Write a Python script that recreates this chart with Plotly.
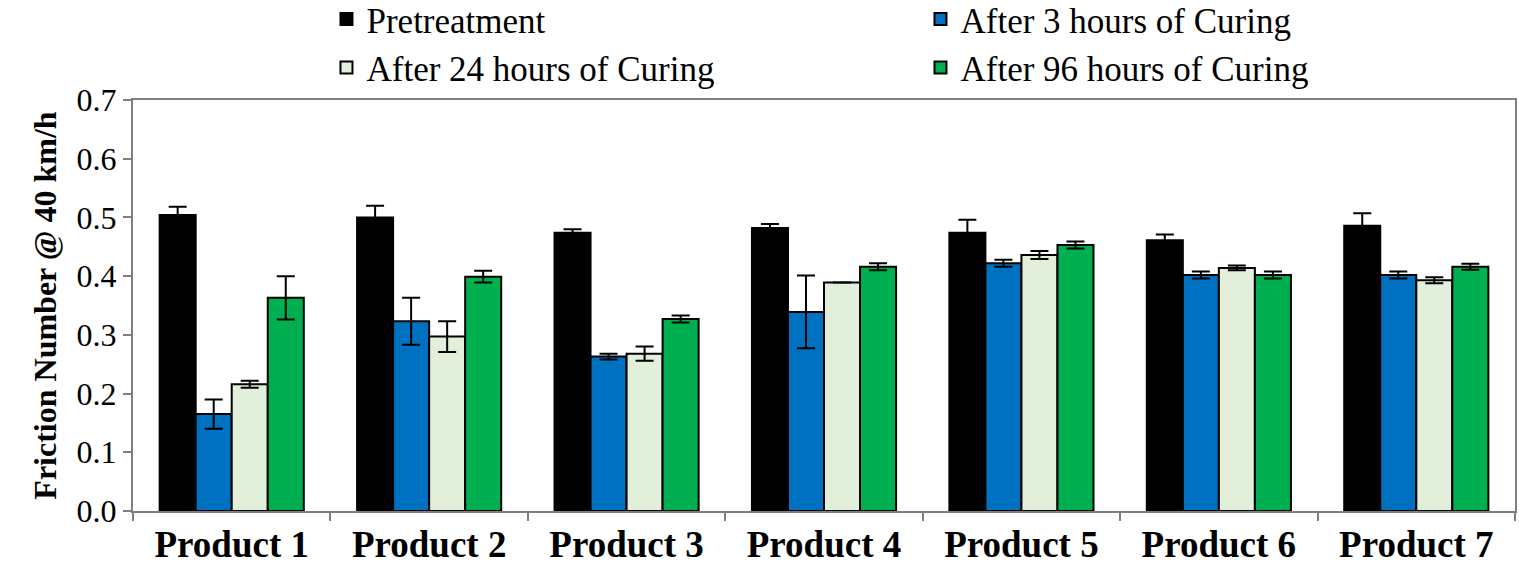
import plotly.graph_objects as go

products = ["Product 1", "Product 2", "Product 3", "Product 4",
            "Product 5", "Product 6", "Product 7"]

pretreatment = [0.504, 0.500, 0.474, 0.482, 0.474, 0.461, 0.486]
pretreatment_err = [0.014, 0.020, 0.006, 0.007, 0.022, 0.010, 0.021]

cure_3h = [0.165, 0.323, 0.263, 0.339, 0.422, 0.402, 0.402]
cure_3h_err = [0.025, 0.040, 0.005, 0.062, 0.006, 0.006, 0.006]

cure_24h = [0.216, 0.297, 0.268, 0.389, 0.436, 0.414, 0.393]
cure_24h_err = [0.006, 0.026, 0.012, 0.0, 0.007, 0.004, 0.005]

cure_96h = [0.363, 0.399, 0.327, 0.416, 0.453, 0.402, 0.416]
cure_96h_err = [0.037, 0.010, 0.006, 0.006, 0.006, 0.006, 0.005]

series = [
    ("Pretreatment", pretreatment, pretreatment_err, "#000000"),
    ("After 3 hours of Curing", cure_3h, cure_3h_err, "#0070C0"),
    ("After 24 hours of Curing", cure_24h, cure_24h_err, "#E2EFDA"),
    ("After 96 hours of Curing", cure_96h, cure_96h_err, "#00B050"),
]

SERIF = "Liberation Serif"

fig = go.Figure()
for name, vals, errs, color in series:
    fig.add_trace(go.Bar(
        name=name,
        x=products,
        y=vals,
        marker=dict(color=color, line=dict(color="#000000", width=2)),
        error_y=dict(type="data", array=errs, visible=True,
                     color="#000000", thickness=2, width=9),
    ))

fig.update_layout(
    width=1519, height=571,
    margin=dict(l=133, r=4, t=100, b=60, autoexpand=False),
    paper_bgcolor="white",
    plot_bgcolor="white",
    barmode="group",
    bargap=0.27,
    bargroupgap=0,
    font=dict(family=SERIF, color="#000000"),
    legend=dict(
        orientation="h",
        x=0.14, xanchor="left",
        y=1.268, yanchor="top",
        entrywidth=549,
        bgcolor="rgba(0,0,0,0)",
        font=dict(family=SERIF, size=35, color="#000000"),
        tracegroupgap=0,
        itemclick=False,
    ),
    showlegend=True,
)

fig.update_xaxes(
    showline=True, linecolor="#7f7f7f", linewidth=2, mirror=True,
    ticks="outside", tickson="boundaries", ticklen=8, tickcolor="#7f7f7f",
    tickwidth=2,
    tickfont=dict(family=SERIF, size=37, color="#000000", weight="bold"),
    showgrid=False,
)
fig.update_yaxes(
    range=[0, 0.7], dtick=0.1, tickformat=".1f",
    showline=True, linecolor="#7f7f7f", linewidth=2, mirror=True,
    ticks="outside", ticklen=8, tickcolor="#7f7f7f", tickwidth=2,
    tickfont=dict(family=SERIF, size=32, color="#000000"),
    showgrid=False, zeroline=False,
    title=dict(text="Friction Number @ 40 km/h",
               font=dict(family=SERIF, size=32, color="#000000", weight="bold"),
               standoff=10),
)

fig.write_html("out.html")
